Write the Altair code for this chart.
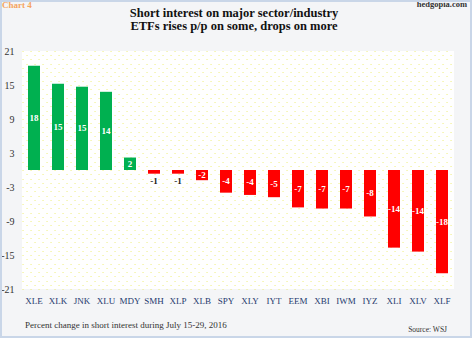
import altair as alt
import pandas as pd

tickers = ["XLE", "XLK", "JNK", "XLU", "MDY", "SMH", "XLP", "XLB", "SPY",
           "XLY", "IYT", "EEM", "XBI", "IWM", "IYZ", "XLI", "XLV", "XLF"]
values = [18.4, 15.2, 14.7, 13.8, 2.2, -0.65, -0.65, -1.8, -4.0,
          -4.4, -4.8, -6.6, -6.8, -6.8, -8.2, -13.7, -14.4, -18.2]
labels = [str(round(v)) for v in values]

title_lines = ["Short interest on major sector/industry",
               "ETFs rises p/p on some, drops on more"]
footnote = "Percent change in short interest during July 15-29, 2016"
source = "Source: WSJ"

df = pd.DataFrame({"ticker": tickers, "value": values, "label": labels})
df["mid"] = df["value"] / 2
df["inside"] = df["value"].abs() >= 1.5

SERIF = "Liberation Serif"
W, H = 432, 238
grid_vals = [round(-21 + 0.75 * i, 2) for i in range(57)]

x_scale = alt.Scale(paddingInner=0.5, paddingOuter=0.25)
x_axis = alt.Axis(title=None, labelAngle=0, domain=False, ticks=False, grid=False,
                  labelFont=SERIF, labelFontSize=9, labelColor="#1f3a6e",
                  labelPadding=7)
y_scale = alt.Scale(domain=[-21, 21], nice=False)
y_axis = alt.Axis(title=None, values=grid_vals, domain=False, ticks=False,
                  labelOverlap=False,
                  labelExpr="(datum.value + 21) % 6 == 0 ? (datum.value < 0 ? '-' + abs(datum.value) : '' + datum.value) : ''",
                  labelFont=SERIF, labelFontSize=10, labelColor="#333333",
                  labelPadding=8,
                  grid=True, gridColor="#eaea60", gridOpacity=0.75, gridWidth=1.1,
                  gridDash=[1.1, 6.9],
                  gridDashOffset={"condition": {"test": "round((datum.value + 21) / 0.75) % 2 == 1", "value": 4}, "value": 0})

def xe():
    return alt.X("ticker:N", sort=tickers, scale=x_scale, axis=x_axis)

def ye(field):
    return alt.Y(field, scale=y_scale, axis=y_axis)

base = alt.Chart(df)

bars = base.mark_bar().encode(
    x=xe(),
    y=ye("value:Q"),
    y2=alt.datum(0),
    color=alt.condition("datum.value > 0", alt.value("#00b050"), alt.value("#ff0000")),
)

inside_text = base.transform_filter("datum.inside").mark_text(
    font=SERIF, fontSize=9, fontWeight="bold", color="white", baseline="middle"
).encode(x=xe(), y=ye("mid:Q"), text="label:N")

outside_text = base.transform_filter("!datum.inside").mark_text(
    font=SERIF, fontSize=9, fontWeight="bold", color="#222222", baseline="top", dy=3
).encode(x=xe(), y=ye("value:Q"), text="label:N")

def txt(s, x, y, size, weight="normal", color="#222222", align="left"):
    return alt.Chart(pd.DataFrame({"t": [s]})).mark_text(
        font=SERIF, fontSize=size, fontWeight=weight, color=color,
        align=align, baseline="alphabetic"
    ).encode(x=alt.value(x), y=alt.value(y), text="t:N")

t1 = txt(title_lines[0], 212, -34.5, 12.5, "bold", "#111111", "center")
t2 = txt(title_lines[1], 212, -21.5, 12.5, "bold", "#111111", "center")
chart4 = txt("Chart 4", -20, -43, 9, "bold", "#f4a460")
hedg = txt("hedgopia.com", 445, -44, 8.5, "bold", "#333333", "right")
foot = txt(footnote, 3, 277, 9, "normal", "#333333")
src = txt(source, 425, 281, 7.5, "normal", "#333333", "right")

border = alt.Chart(pd.DataFrame({"a": [0]})).mark_rect(
    fill=None, stroke="#c9d6e8", strokeWidth=2
).encode(x=alt.value(-21), x2=alt.value(449), y=alt.value(-50), y2=alt.value(286))

chart = alt.layer(bars, inside_text, outside_text, t1, t2, chart4, hedg, foot, src, border).properties(
    width=W, height=H,
    autosize=alt.AutoSizeParams(type="none"),
    padding={"left": 22, "top": 51, "right": 18, "bottom": 49},
    background="#f4f5f7",
).configure_view(fill="white", stroke=None)

chart.save("out.html", embed_options={"renderer": "svg", "actions": False})
